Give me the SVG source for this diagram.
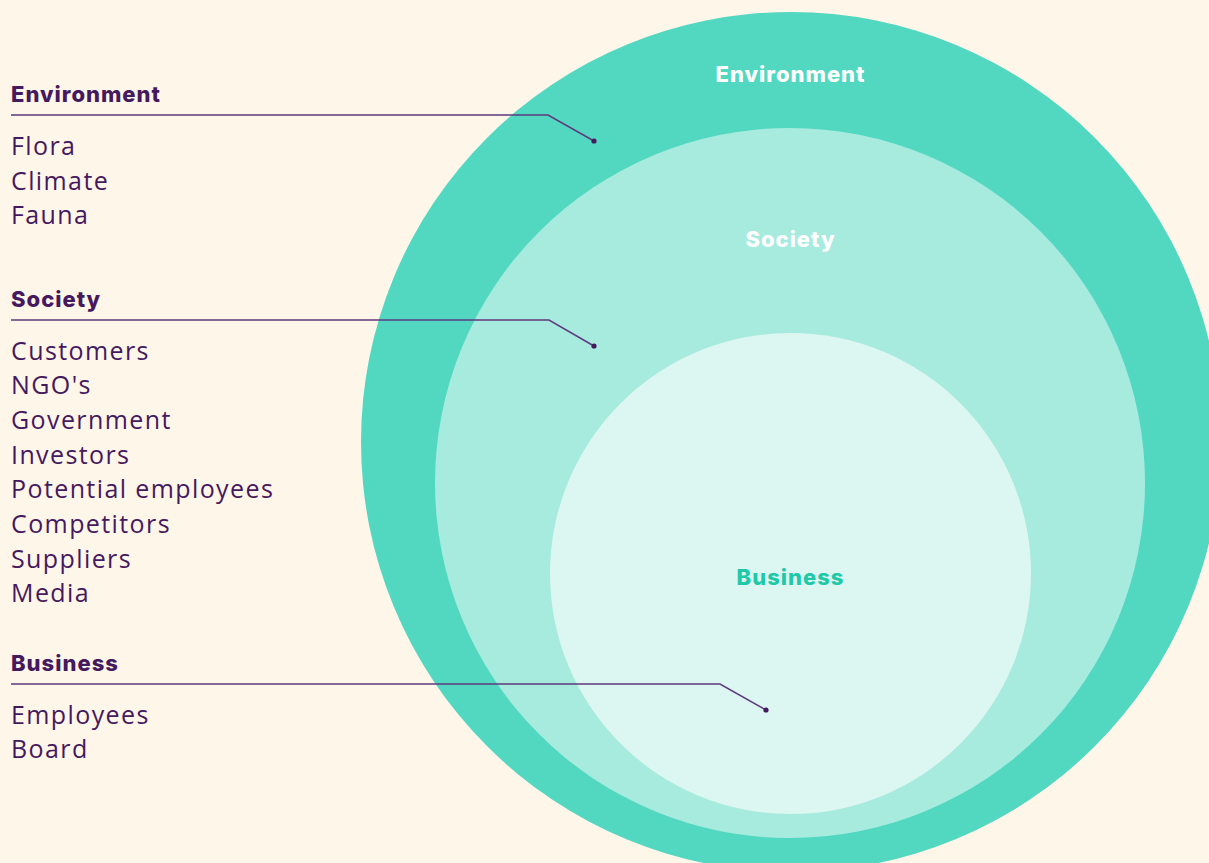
<svg xmlns="http://www.w3.org/2000/svg" width="1209" height="863" viewBox="0 0 1209 863">
  <style>
    .head { font-family: Inter, "Open Sans", "Liberation Sans", sans-serif; font-weight: 800; font-size: 22px; fill: #45195E; letter-spacing: 1px; }
    .item { font-family: "Open Sans", "Liberation Sans", sans-serif; font-weight: 400; font-size: 25px; fill: #45195E; letter-spacing: 1.4px; }
    .ring-label { font-family: Inter, "Open Sans", "Liberation Sans", sans-serif; font-weight: 800; font-size: 22px; letter-spacing: 1px; text-anchor: middle; }
    .leader { fill: none; stroke: #5E3A7E; stroke-width: 1.5; }
    .dot { fill: #45195E; }
  </style>
  <rect width="1209" height="863" fill="#FFF6EA"/>

  <!-- concentric rings -->
  <g id="ring-environment">
    <circle cx="791" cy="442" r="430" fill="#52D8C1"/>
    <text class="ring-label" x="790.5" y="82" fill="#FFFFFF">Environment</text>
  </g>
  <g id="ring-society">
    <circle cx="790" cy="483" r="355" fill="#A7EBDF"/>
    <text class="ring-label" x="790.5" y="247" fill="#FFFFFF">Society</text>
  </g>
  <g id="ring-business">
    <circle cx="790.5" cy="573.5" r="240.5" fill="#DCF6F1"/>
    <text class="ring-label" x="790.5" y="585" fill="#1FC9A8">Business</text>
  </g>

  <!-- legend lists -->
  <g id="legend-environment">
    <text class="head" x="11" y="102">Environment</text>
    <text class="item" x="11" y="155">Flora</text>
    <text class="item" x="11" y="190">Climate</text>
    <text class="item" x="11" y="224">Fauna</text>
  </g>
  <g id="legend-society">
    <text class="head" x="11" y="307">Society</text>
    <text class="item" x="11" y="360">Customers</text>
    <text class="item" x="11" y="394">NGO's</text>
    <text class="item" x="11" y="429">Government</text>
    <text class="item" x="11" y="464">Investors</text>
    <text class="item" x="11" y="498">Potential employees</text>
    <text class="item" x="11" y="533">Competitors</text>
    <text class="item" x="11" y="568">Suppliers</text>
    <text class="item" x="11" y="602">Media</text>
  </g>
  <g id="legend-business">
    <text class="head" x="11" y="671">Business</text>
    <text class="item" x="11" y="724">Employees</text>
    <text class="item" x="11" y="758">Board</text>
  </g>

  <!-- leader lines from legend headings into the rings -->
  <g id="connectors">
    <polyline class="leader" points="11,115 548,115 594,141"/>
    <circle class="dot" cx="594" cy="141" r="2.6"/>
    <polyline class="leader" points="11,320 549,320 594,346"/>
    <circle class="dot" cx="594" cy="346" r="2.6"/>
    <polyline class="leader" points="11,684 720,684 766,710"/>
    <circle class="dot" cx="766" cy="710" r="2.6"/>
  </g>
</svg>
